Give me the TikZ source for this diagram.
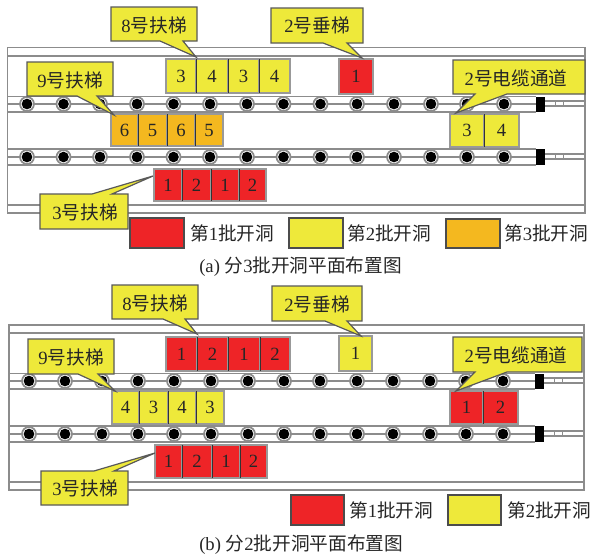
\documentclass[tikz,border=0pt]{standalone}
\usepackage{fontspec}
\setmainfont{Liberation Serif}
\newfontfamily\cjkfam{Noto Sans CJK SC}
\newcommand\zh[1]{{\cjkfam #1}}
\definecolor{cy}{HTML}{EEE93A}
\definecolor{cr}{HTML}{EE2427}
\definecolor{co}{HTML}{F4B81F}
\definecolor{rail}{HTML}{8C8C8C}
\tikzset{
 every node/.style={font=\fontsize{14}{16}\selectfont,inner sep=0pt,text=black!85},
 frameline/.style={draw=rail,line width=0.9pt},
 cellbox/.style={draw=black!40,line width=0.8pt},
 divider/.style={draw=black!80,line width=0.6pt},
 callbox/.style={draw=black!65,line width=0.9pt,fill=cy,line join=miter},
 legbox/.style={draw=black!70,line width=0.9pt},
 ringo/.style={circle,draw=rail,line width=1.3pt,fill=white,minimum size=10.5pt},
 ringi/.style={circle,fill=black,minimum size=8pt},
}
% name x1 x2 y1 y2 fill text
\newcommand\cell[7]{\draw[cellbox,fill=#6] (#2,#4) rectangle node (#1) {#7} (#3,#5);}
% dividers between adjacent cells: y1 y2 list of x
\newcommand\dividers[3]{\foreach \dx in {#3}{\draw[divider] (\dx,#1) -- (\dx,#2);}}
% callout with tail on the lower edge: x1 x2 y1 y2 b1 b2 tipx tipy
\newcommand\calldown[8]{\draw[callbox] (#1,#3) -- (#2,#3) -- (#2,#4) -- (#6,#4) -- (#7,#8) -- (#5,#4) -- (#1,#4) -- cycle;}
% callout with tail on the upper edge
\newcommand\callup[8]{\draw[callbox] (#1,#3) -- (#5,#3) -- (#7,#8) -- (#6,#3) -- (#2,#3) -- (#2,#4) -- (#1,#4) -- cycle;}
\begin{document}
\begin{tikzpicture}[x=0.75pt,y=-0.75pt]
\useasboundingbox (0,0) rectangle (590,558);
\fill[white] (0,0) rectangle (590,558);

%%%%% PANEL A
\draw[frameline] (7.5,47.5) rectangle (585,213);
\draw[frameline] (7.5,56) -- (585,56);
\draw[frameline] (7.5,205) -- (585,205);
\foreach \yt/\ym/\yb in {96.5/104/112,149/157/165}{
 \draw[frameline] (7.5,\yt) -- (536,\yt);
 \draw[frameline] (7.5,\ym) -- (536,\ym);
 \draw[frameline] (7.5,\yb) -- (536,\yb);
 \fill[black] (536,\yt) rectangle (545,\yb);
 \draw[frameline] (545,\ym-3) -- (585,\ym-3);
 \draw[frameline] (545,\ym+2) -- (585,\ym+2);
 \draw[frameline,line width=0.6pt] (555,\ym-3) -- (555,\ym+2);
 \draw[frameline,line width=0.6pt] (563,\ym-3) -- (563,\ym+2);
 \foreach \cx in {27,63.5,100,137,173.5,210,247,283.5,320.5,357,394,431,467,504}{
  \node[ringo] at (\cx,\ym) {};
  \node[ringi] at (\cx,\ym) {};
 }
}
\cell{a83}{166}{196}{59}{93}{cy}{3}
\cell{a84}{196}{228}{59}{93}{cy}{4}
\cell{a85}{228}{259}{59}{93}{cy}{3}
\cell{a86}{259}{290}{59}{93}{cy}{4}
\dividers{59}{93}{196,228,259}
\cell{av}{339}{373}{59}{94}{cr}{1}
\cell{a91}{111}{138}{114}{146}{co}{6}
\cell{a92}{138}{167}{114}{146}{co}{5}
\cell{a93}{167}{195}{114}{146}{co}{6}
\cell{a94}{195}{223}{114}{146}{co}{5}
\dividers{114}{146}{138,167,195}
\cell{a31}{154}{182}{169}{201}{cr}{1}
\cell{a32}{182}{211}{169}{201}{cr}{2}
\cell{a33}{211}{239}{169}{201}{cr}{1}
\cell{a34}{239}{266}{169}{201}{cr}{2}
\dividers{169}{201}{182,211,239}
\cell{ac1}{450}{484}{114}{147}{cy}{3}
\cell{ac2}{484}{519}{114}{147}{cy}{4}
\dividers{114}{147}{484}

\calldown{111}{197}{7}{41}{160}{183}{196}{57}
\node (la8) at (154,25) {8\zh{号扶梯}};
\calldown{271}{363}{8}{43}{323}{347}{362}{58}
\node (la2) at (317,25) {2\zh{号垂梯}};
\calldown{27}{113}{62}{96}{77}{97}{114}{115}
\node (la9) at (70,80) {9\zh{号扶梯}};
\calldown{453}{585}{60}{94}{475}{507}{456}{113}
\node (lac) at (516,78) {2\zh{号电缆通道}};
\callup{40}{128}{194}{229}{92}{112}{153}{176}
\node (la3) at (85,212) {3\zh{号扶梯}};

\draw[legbox,fill=cr] (130,218) rectangle (184,248);
\node[anchor=west] (lega1) at (190,233) {\zh{第}1\zh{批开洞}};
\draw[legbox,fill=cy] (289,218) rectangle (343,248);
\node[anchor=west] (lega2) at (347,233) {\zh{第}2\zh{批开洞}};
\draw[legbox,fill=co] (446,219) rectangle (500,248);
\node[anchor=west] (lega3) at (504,233) {\zh{第}3\zh{批开洞}};
\node[anchor=west] (capa) at (199,266.5) {(a) \zh{分}3\zh{批开洞平面布置图}};

%%%%% PANEL B
\draw[frameline] (9,325) rectangle (584,490);
\draw[frameline] (9,333) -- (584,333);
\draw[frameline] (9,482) -- (584,482);
\foreach \yt/\ym/\yb in {373.5/381/389,426/434/442}{
 \draw[frameline] (9,\yt) -- (535,\yt);
 \draw[frameline] (9,\ym) -- (535,\ym);
 \draw[frameline] (9,\yb) -- (535,\yb);
 \fill[black] (535,\yt) rectangle (544,\yb);
 \draw[frameline] (544,\ym-3) -- (584,\ym-3);
 \draw[frameline] (544,\ym+2) -- (584,\ym+2);
 \draw[frameline,line width=0.6pt] (554,\ym-3) -- (554,\ym+2);
 \draw[frameline,line width=0.6pt] (562,\ym-3) -- (562,\ym+2);
 \foreach \cx in {29,65,102,138,174,211,248,284,320,357,393,430,466,503}{
  \node[ringo] at (\cx,\ym) {};
  \node[ringi] at (\cx,\ym) {};
 }
}
\cell{b81}{166}{197}{337}{371}{cr}{1}
\cell{b82}{197}{228}{337}{371}{cr}{2}
\cell{b83}{228}{260}{337}{371}{cr}{1}
\cell{b84}{260}{290}{337}{371}{cr}{2}
\dividers{337}{371}{197,228,260}
\cell{bv}{339}{372}{336}{371}{cy}{1}
\cell{b91}{112}{139}{391}{424}{cy}{4}
\cell{b92}{139}{168}{391}{424}{cy}{3}
\cell{b93}{168}{196}{391}{424}{cy}{4}
\cell{b94}{196}{224}{391}{424}{cy}{3}
\dividers{391}{424}{139,168,196}
\cell{b31}{155}{182}{445}{478}{cr}{1}
\cell{b32}{182}{212}{445}{478}{cr}{2}
\cell{b33}{212}{240}{445}{478}{cr}{1}
\cell{b34}{240}{267}{445}{478}{cr}{2}
\dividers{445}{478}{182,212,240}
\cell{bc1}{450}{483}{391}{424}{cr}{1}
\cell{bc2}{483}{518}{391}{424}{cr}{2}
\dividers{391}{424}{483}

\calldown{112}{198}{285}{319}{163}{185}{197}{334}
\node (lb8) at (155,303) {8\zh{号扶梯}};
\calldown{272}{362}{286}{321}{325}{347}{361}{336}
\node (lb2) at (317,304) {2\zh{号垂梯}};
\calldown{28}{114}{339}{374}{78}{98}{115}{391}
\node (lb9) at (71,357) {9\zh{号扶梯}};
\calldown{453}{582}{337}{372}{475}{507}{456}{391}
\node (lbc) at (516,355) {2\zh{号电缆通道}};
\callup{41}{128}{471}{505}{94}{114}{155}{453}
\node (lb3) at (85,488) {3\zh{号扶梯}};

\draw[legbox,fill=cr] (291,495) rectangle (344,525);
\node[anchor=west] (legb1) at (349,510) {\zh{第}1\zh{批开洞}};
\draw[legbox,fill=cy] (448,495) rectangle (501,525);
\node[anchor=west] (legb2) at (507,510) {\zh{第}2\zh{批开洞}};
\node[anchor=west] (capb) at (199,545) {(b) \zh{分}2\zh{批开洞平面布置图}};
\end{tikzpicture}
\end{document}
